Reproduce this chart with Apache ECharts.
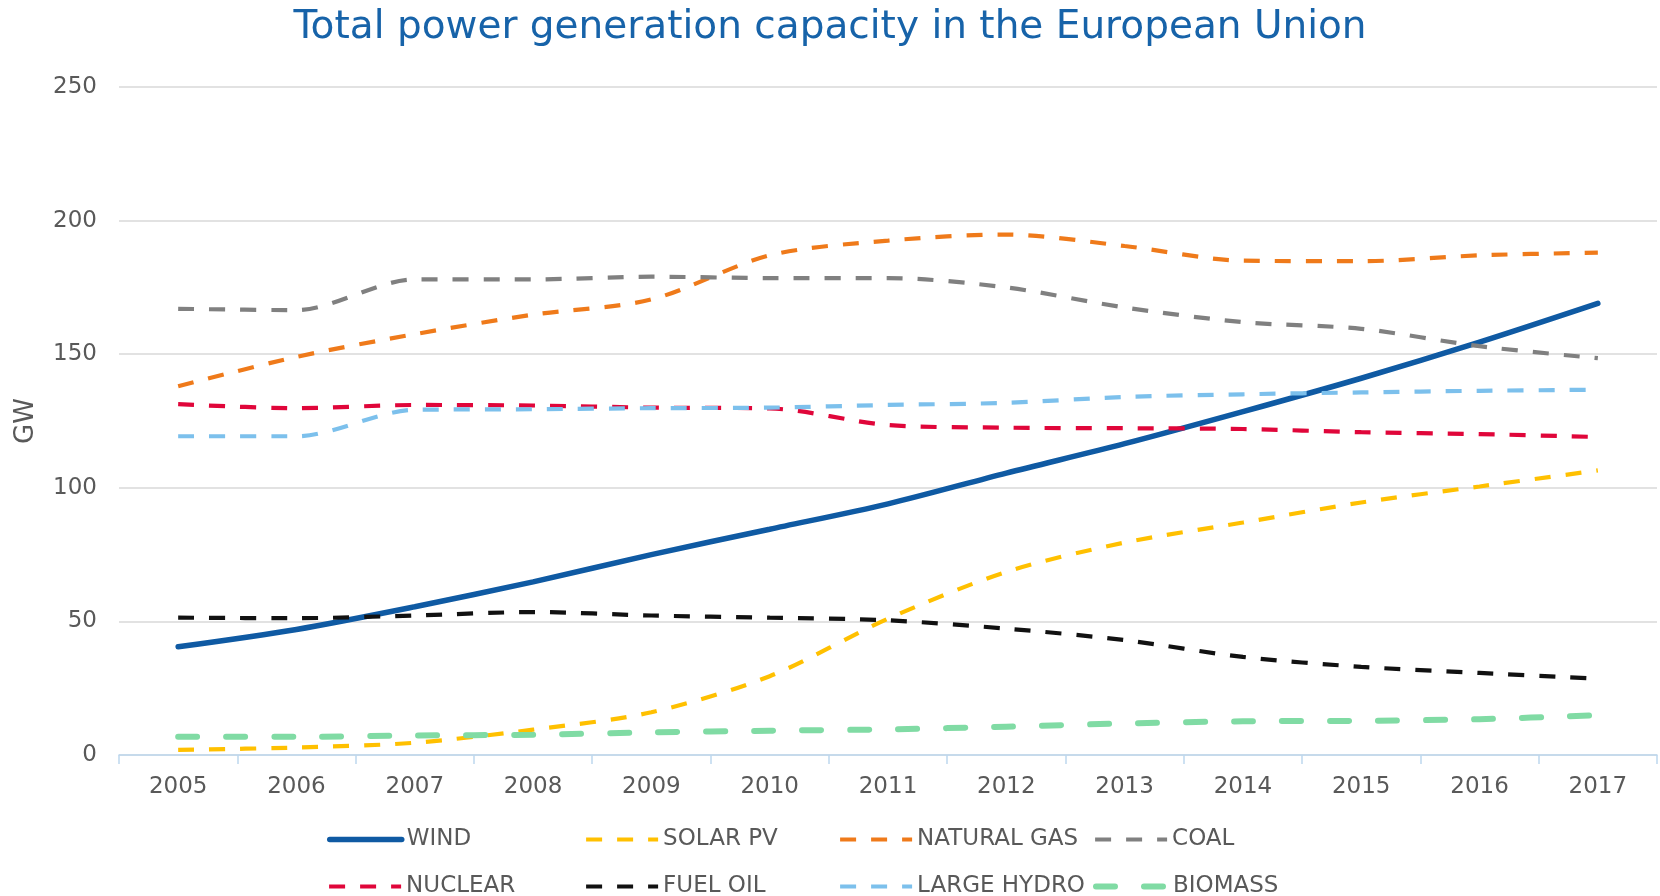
<!DOCTYPE html>
<html lang="en">
<head>
    <meta charset="UTF-8">
    <title>Total power generation capacity in the European Union</title>
    <script src="https://cdn.jsdelivr.net/npm/echarts@6/dist/echarts.min.js"></script>
</head>
<style>
    html, body{
        margin:0;
        padding:0;
        background-color:#ffffff;
    }
    #chart{
        width:1660px;
        height:896px;
    }
</style>
<body>
<div id="chart"></div>
</body>
<script>
    // data (GW)
    var years = ['2005','2006','2007','2008','2009','2010','2011','2012','2013','2014','2015','2016','2017'];
    var yTicks = [0, 50, 100, 150, 200, 250];

    var wind      = [40.5, 47, 55.5, 64.8, 75, 84.5, 94, 105.5, 116.5, 128.5, 141, 154.5, 169];
    var solarPv   = [1.9, 2.8, 4.6, 9.5, 16, 29.5, 51, 68.5, 79.5, 87, 94.5, 100.5, 106.5];
    var naturalGas= [138, 149, 157.5, 164.8, 170.5, 187, 192.5, 194.8, 190.5, 185, 184.8, 187, 188];
    var coal      = [167, 166.5, 178, 178, 179, 178.5, 178.5, 175, 167.5, 162, 159.5, 153, 148.5];
    var nuclear   = [131.3, 129.8, 131, 130.8, 130, 129.7, 123.5, 122.5, 122.3, 122, 120.8, 120.1, 119];
    var fuelOil   = [51.4, 51.2, 52.2, 53.5, 52.2, 51.4, 50.4, 47.3, 43, 36.7, 33, 30.7, 28.6];
    var largeHydro= [119.3, 119.3, 129.2, 129.4, 129.8, 130, 131, 131.8, 134, 135, 135.7, 136.3, 136.7];
    var biomass   = [6.8, 6.8, 7.3, 7.6, 8.5, 9.1, 9.6, 10.6, 11.8, 12.6, 12.8, 13.4, 14.9];

    var names = ['WIND','SOLAR PV','NATURAL GAS','COAL','NUCLEAR','FUEL OIL','LARGE HYDRO','BIOMASS'];
    var values = [wind, solarPv, naturalGas, coal, nuclear, fuelOil, largeHydro, biomass];
    var colors = ['#0f5aa3','#ffc000','#ef7a1a','#808080','#e0063a','#111111','#7cc0ec','#80dba4'];
    var widths = [5.5, 4.2, 4.2, 4.2, 4.2, 4.2, 4.2, 6];
    var dashes = ['solid',[16,15],[16,15],[16,15],[16,15],[16,15],[16,15],[19,29]];
    var caps   = ['round','butt','butt','butt','butt','butt','butt','round'];

    var font = 'DejaVu Sans';
    var grey = '#595959';

    var series = [];
    for(var i=0;i<names.length;i++){
        series.push({
            name:names[i],
            type:'line',
            data:values[i],
            smooth:0.3,
            symbol:'none',
            color:colors[i],
            lineStyle:{
                color:colors[i],
                width:widths[i],
                type:dashes[i],
                cap:caps[i]
            }
        });
    }

    // legend: two rows of four, fixed columns like the original
    var legendCols = [327, 584, 838, 1093];
    var legendRows = [828, 875];
    var legends = [];
    for(var j=0;j<names.length;j++){
        legends.push({
            data:[names[j]],
            left:legendCols[j%4],
            top:legendRows[Math.floor(j/4)],
            padding:0,
            itemWidth:72,
            itemHeight:14,
            selectedMode:false,
            itemStyle:{opacity:0, borderWidth:0},
            lineStyle:{width:widths[j], type:dashes[j], cap:caps[j]},
            textStyle:{
                fontFamily:font,
                fontSize:23,
                color:grey
            }
        });
    }

    var myChart = echarts.init(document.getElementById('chart'));
    myChart.setOption({
        animation:false,
        title:{
            text:'Total power generation capacity in the European Union',
            left:'center',
            top:3,
            textStyle:{
                fontFamily:font,
                fontSize:39,
                fontWeight:'normal',
                color:'#1763a9'
            }
        },
        legend:legends,
        grid:{
            left:119,
            right:3,
            top:87,
            bottom:141,
            containLabel:false
        },
        xAxis:{
            type:'category',
            data:years,
            boundaryGap:true,
            axisLine:{lineStyle:{color:'#bdd7ee',width:1.5}},
            axisTick:{show:true,length:9,lineStyle:{color:'#bdd7ee',width:1.5}},
            axisLabel:{
                fontFamily:font,
                fontSize:23,
                color:grey,
                margin:21
            },
            splitLine:{show:false}
        },
        yAxis:{
            type:'value',
            min:yTicks[0],
            max:yTicks[yTicks.length-1],
            interval:yTicks[1]-yTicks[0],
            name:'GW',
            nameLocation:'middle',
            nameGap:80,
            nameRotate:90,
            nameTextStyle:{
                fontFamily:font,
                fontSize:26,
                color:grey
            },
            axisLine:{show:false},
            axisTick:{show:false},
            axisLabel:{
                fontFamily:font,
                fontSize:23,
                color:grey,
                margin:22
            },
            splitLine:{lineStyle:{color:'#d9d9d9',width:1.5}}
        },
        series:series
    });
</script>
</html>
